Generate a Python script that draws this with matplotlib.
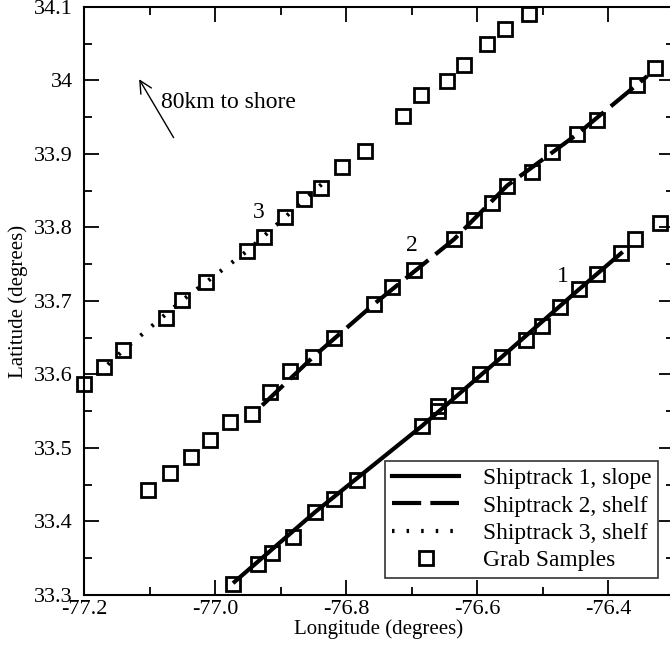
import numpy as np
import matplotlib
matplotlib.use("Agg")
from matplotlib import pyplot
from matplotlib.ticker import MultipleLocator

pyplot.rcParams['font.family'] = ['Liberation Serif', 'DejaVu Serif']

# grab samples (lon, lat)
grab_lon = [-77.200, -77.169, -77.140, -77.075, -77.050, -77.014, -76.951, -76.925,
            -76.893, -76.864, -76.838, -76.806, -76.771, -76.713, -76.686, -76.646,
            -76.620, -76.585, -76.557, -76.521,
            -77.102, -77.069, -77.037, -77.008, -76.977, -76.944, -76.916, -76.886,
            -76.850, -76.818, -76.757, -76.730, -76.696, -76.635, -76.605, -76.577,
            -76.554, -76.516, -76.485, -76.447, -76.417, -76.356, -76.328,
            -76.972, -76.934, -76.913, -76.881, -76.847, -76.818, -76.783, -76.684,
            -76.660, -76.660, -76.627, -76.595, -76.562, -76.525, -76.501, -76.473,
            -76.444, -76.417, -76.380, -76.359, -76.321]
grab_lat = [33.587, 33.610, 33.633, 33.677, 33.701, 33.726, 33.768, 33.787,
            33.814, 33.839, 33.854, 33.882, 33.904, 33.952, 33.980, 33.999,
            34.021, 34.050, 34.070, 34.090,
            33.443, 33.466, 33.488, 33.511, 33.535, 33.546, 33.576, 33.605,
            33.624, 33.650, 33.696, 33.719, 33.742, 33.784, 33.810, 33.833,
            33.857, 33.876, 33.903, 33.927, 33.946, 33.994, 34.017,
            33.315, 33.342, 33.357, 33.379, 33.413, 33.431, 33.456, 33.530,
            33.550, 33.557, 33.572, 33.601, 33.624, 33.647, 33.666, 33.692,
            33.716, 33.737, 33.765, 33.784, 33.806]

# ship tracks
track1_lon = [-76.970, -76.847, -76.684, -76.562, -76.444, -76.380]
track1_lat = [33.318, 33.413, 33.530, 33.624, 33.716, 33.765]
track2_lon = [-76.928, -76.850, -76.757, -76.635, -76.554, -76.447, -76.340]
track2_lat = [33.558, 33.624, 33.696, 33.784, 33.857, 33.927, 34.006]
track3_lon = [-77.180, -77.140, -77.050, -76.951, -76.893, -76.827]
track3_lat = [33.600, 33.633, 33.701, 33.768, 33.814, 33.867]

fig = pyplot.figure(figsize=(6.7, 6.55), dpi=100)
ax = fig.add_axes([84 / 670, 1 - 595 / 655, 0.9 * 655 / 670, 588 / 655])

ax.plot(track1_lon, track1_lat, '-', c='k', lw=3, label='Shiptrack 1, slope')
ax.plot(track2_lon, track2_lat, c='k', lw=3, dashes=(7, 2.2), label='Shiptrack 2, shelf')
ax.plot(track3_lon, track3_lat, c='k', lw=3, linestyle=(0, (0.6, 2.9)),
        label='Shiptrack 3, shelf')
ax.plot(grab_lon, grab_lat, 's', mfc='none', mec='k', ms=9.5, mew=2,
        label='Grab Samples', clip_on=False)

ax.set_xlim(-77.2, -76.3)
ax.set_ylim(33.3, 34.1)
ax.xaxis.set_major_locator(MultipleLocator(0.2))
ax.xaxis.set_minor_locator(MultipleLocator(0.1))
ax.yaxis.set_major_locator(MultipleLocator(0.1))
ax.yaxis.set_minor_locator(MultipleLocator(0.05))
ax.xaxis.set_major_formatter(matplotlib.ticker.FormatStrFormatter('%.1f'))
ax.yaxis.set_major_formatter(matplotlib.ticker.FuncFormatter(
    lambda v, p: '{0:g}'.format(round(v, 2))))
ax.tick_params(which='both', direction='in', top=True, right=True, labelsize=16,
               width=1.3)
ax.tick_params(which='major', length=11)
ax.tick_params(which='minor', length=6)
ax.tick_params(axis='y', which='major', pad=8)
for s in ax.spines.values():
    s.set_linewidth(1.5)

ax.set_xlabel('Longitude (degrees)', fontsize=15, labelpad=0)
ax.set_ylabel('Latitude (degrees)', fontsize=15, labelpad=4)

ax.annotate('', xy=(-77.118, 34.005), xytext=(-77.061, 33.919),
            arrowprops=dict(arrowstyle='->', lw=1, color='k', mutation_scale=22))
ax.text(-77.083, 33.970, '80km to shore', fontsize=17, va='center')
ax.text(-76.933, 33.820, '3', fontsize=17, ha='center', va='center')
ax.text(-76.699, 33.775, '2', fontsize=17, ha='center', va='center')
ax.text(-76.469, 33.733, '1', fontsize=17, ha='center', va='center')

leg = ax.legend(loc='lower right', fontsize=16.8, handlelength=2.9, frameon=True,
                fancybox=False, edgecolor='k', borderaxespad=0,
                labelspacing=0.25, handletextpad=1.0, borderpad=0.3,
                bbox_to_anchor=(0.974, 0.029))
leg.get_frame().set_linewidth(1.2)

pyplot.savefig('out.png', dpi=100)
